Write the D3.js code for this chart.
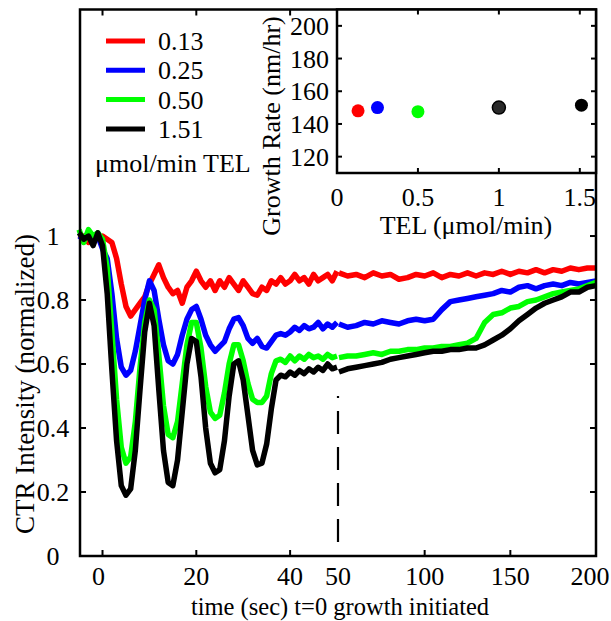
<!DOCTYPE html>
<html>
<head>
<meta charset="utf-8">
<script src="https://cdn.jsdelivr.net/npm/d3@7"></script>
<style>
body { margin: 0; background: #fff; }
</style>
</head>
<body>
<div id="chart"></div>
<script>

// time points, left panel (-5..50 sec, 1 sec) and right panel (50..200 sec, 5 sec)
var tLeft = d3.range(-5, 51)
var tRight = d3.range(50, 201, 5)

var labels = ['0.13', '0.25', '0.50', '1.51']
var colors = ['#ff0000', '#0000ff', '#00ff00', '#000000']

var redLeft = [0.99, 1.00, 0.98, 1.00, 0.99, 1.00, 0.99, 0.98, 0.93, 0.85,
  0.78, 0.75, 0.77, 0.79, 0.81, 0.85, 0.88, 0.91, 0.87, 0.84,
  0.82, 0.83, 0.79, 0.84, 0.86, 0.89, 0.86, 0.84, 0.86, 0.83,
  0.86, 0.84, 0.87, 0.85, 0.83, 0.86, 0.84, 0.82, 0.815, 0.84,
  0.83, 0.86, 0.85, 0.87, 0.85, 0.86, 0.88, 0.86, 0.87, 0.85,
  0.88, 0.86, 0.87, 0.88, 0.86, 0.89]
var blueLeft = [1.00, 0.99, 1.01, 0.99, 1.00, 0.96, 0.93, 0.82, 0.68, 0.59,
  0.565, 0.58, 0.64, 0.72, 0.80, 0.86, 0.83, 0.74, 0.66, 0.61,
  0.60, 0.63, 0.69, 0.74, 0.77, 0.78, 0.74, 0.69, 0.66, 0.64,
  0.655, 0.67, 0.71, 0.74, 0.745, 0.72, 0.68, 0.665, 0.68, 0.655,
  0.65, 0.67, 0.69, 0.695, 0.69, 0.70, 0.715, 0.705, 0.72, 0.71,
  0.715, 0.73, 0.71, 0.725, 0.715, 0.73]
var greenLeft = [1.02, 0.98, 1.02, 1.00, 1.01, 0.99, 0.90, 0.70, 0.49, 0.34,
  0.29, 0.31, 0.42, 0.59, 0.73, 0.80, 0.77, 0.63, 0.47, 0.38,
  0.37, 0.42, 0.54, 0.66, 0.73, 0.73, 0.65, 0.53, 0.45, 0.43,
  0.44, 0.51, 0.60, 0.66, 0.66, 0.61, 0.54, 0.49, 0.48, 0.48,
  0.50, 0.57, 0.61, 0.615, 0.605, 0.625, 0.61, 0.625, 0.615, 0.63,
  0.62, 0.625, 0.615, 0.63, 0.62, 0.625]
var blackLeft = [1.01, 0.99, 1.00, 0.97, 1.01, 0.97, 0.82, 0.58, 0.36, 0.22,
  0.19, 0.21, 0.33, 0.52, 0.70, 0.79, 0.72, 0.52, 0.33, 0.23,
  0.22, 0.30, 0.45, 0.60, 0.68, 0.67, 0.56, 0.40, 0.29, 0.26,
  0.27, 0.36, 0.50, 0.60, 0.61, 0.55, 0.44, 0.33, 0.285, 0.29,
  0.35, 0.46, 0.55, 0.565, 0.56, 0.575, 0.565, 0.58, 0.57, 0.585,
  0.575, 0.59, 0.58, 0.60, 0.585, 0.59]

var redRight = [0.885, 0.875, 0.88, 0.87, 0.885, 0.875, 0.88, 0.865, 0.87, 0.88,
  0.875, 0.885, 0.87, 0.88, 0.875, 0.885, 0.875, 0.885, 0.88, 0.89,
  0.88, 0.89, 0.885, 0.895, 0.885, 0.895, 0.89, 0.90, 0.895, 0.90, 0.90]
var blueRight = [0.725, 0.715, 0.72, 0.73, 0.725, 0.735, 0.73, 0.725, 0.735, 0.74,
  0.735, 0.74, 0.77, 0.795, 0.80, 0.805, 0.81, 0.815, 0.82, 0.83,
  0.825, 0.84, 0.845, 0.835, 0.845, 0.85, 0.845, 0.855, 0.85, 0.855, 0.86]
var greenRight = [0.62, 0.625, 0.625, 0.63, 0.635, 0.63, 0.64, 0.64, 0.645, 0.645,
  0.65, 0.65, 0.655, 0.655, 0.66, 0.665, 0.68, 0.73, 0.755, 0.76,
  0.775, 0.78, 0.795, 0.80, 0.81, 0.82, 0.825, 0.83, 0.835, 0.845, 0.855]
var blackRight = [0.575, 0.585, 0.59, 0.595, 0.60, 0.605, 0.615, 0.62, 0.625, 0.63,
  0.635, 0.64, 0.64, 0.645, 0.645, 0.65, 0.65, 0.66, 0.675, 0.69,
  0.71, 0.735, 0.755, 0.775, 0.79, 0.80, 0.81, 0.825, 0.825, 0.84, 0.845]

var seriesLeft = [redLeft, blueLeft, greenLeft, blackLeft]
var seriesRight = [redRight, blueRight, greenRight, blackRight]

var yTicks = [0, 0.2, 0.4, 0.6, 0.8, 1]
var xTicksLeft = [0, 20, 40]
var xTicksRight = [50, 100, 150, 200]

// inset: growth rate vs TEL
var telValues = [0.13, 0.25, 0.50, 1.0, 1.51]
var rateValues = [148, 150, 147.5, 150, 151.5]
var rateColors = ['#ff0000', '#0000ff', '#00ff00', '#2a2a2a', '#000000']
var insetXTicks = [0, 0.5, 1, 1.5]
var insetYTicks = [120, 140, 160, 180, 200]


var width = 611, height = 621
var svg = d3.select('#chart').append('svg')
  .attr('width', width).attr('height', height)
  .style('display', 'block')
  .attr('font-family', "'Times New Roman', 'Liberation Serif', Times, serif")

var L = 80, R = 596, T = 9.5, B = 556

var y = d3.scaleLinear().domain([0, 1.708]).range([B, T])
var xLeft = d3.scaleLinear().domain([-4.8, 50]).range([L, 337])
var xRight = d3.scaleLinear().domain([50, 200]).range([339, R])

var fs = 26

// series
var lineLeft = d3.line().x((d, i) => xLeft(tLeft[i])).y(d => y(d))
var lineRight = d3.line().x((d, i) => xRight(tRight[i])).y(d => y(d))

seriesLeft.forEach((s, i) => {
  svg.append('path').attr('d', lineLeft(s))
    .attr('fill', 'none').attr('stroke', colors[i])
    .attr('stroke-width', 5.5).attr('stroke-linejoin', 'round')
})
seriesRight.forEach((s, i) => {
  svg.append('path').attr('d', lineRight(s))
    .attr('fill', 'none').attr('stroke', colors[i])
    .attr('stroke-width', 5.5).attr('stroke-linejoin', 'round')
})

// dashed marker at 50 sec
svg.append('line')
  .attr('x1', 338).attr('x2', 338)
  .attr('y1', y(0.5)).attr('y2', y(0))
  .attr('stroke', '#000').attr('stroke-width', 2.2)
  .attr('stroke-dasharray', '23 13').attr('stroke-dashoffset', 21)

// frame
svg.append('rect')
  .attr('x', L).attr('y', T).attr('width', R - L).attr('height', B - T)
  .attr('fill', 'none').attr('stroke', '#000').attr('stroke-width', 2.5)

var tl = 6
yTicks.forEach(v => {
  svg.append('line').attr('x1', L).attr('x2', L + tl).attr('y1', y(v)).attr('y2', y(v))
    .attr('stroke', '#000').attr('stroke-width', 2)
  svg.append('line').attr('x1', R).attr('x2', R - tl).attr('y1', y(v)).attr('y2', y(v))
    .attr('stroke', '#000').attr('stroke-width', 2)
  svg.append('text').attr('x', 53).attr('y', y(v) + 9)
    .attr('text-anchor', 'middle').attr('font-size', fs).text(v)
})

var xTickPos = xTicksLeft.map(v => ({v, x: xLeft(v)}))
  .concat(xTicksRight.map(v => ({v, x: v == 50 ? 338 : xRight(v)})))

xTickPos.forEach(d => {
  if (d.v != 50) {
    svg.append('line').attr('x1', d.x).attr('x2', d.x).attr('y1', B).attr('y2', B - tl)
      .attr('stroke', '#000').attr('stroke-width', 2)
    svg.append('line').attr('x1', d.x).attr('x2', d.x).attr('y1', T).attr('y2', T + tl)
      .attr('stroke', '#000').attr('stroke-width', 2)
  }
  var lx = d.v == 0 ? d.x - 4 : d.v == 200 ? d.x - 6 : d.x
  svg.append('text').attr('x', lx).attr('y', B + 29)
    .attr('text-anchor', 'middle').attr('font-size', fs).text(d.v)
})

svg.append('text')
  .attr('x', 340).attr('y', 615)
  .attr('text-anchor', 'middle').attr('font-size', 24.5)
  .text('time (sec) t=0 growth initiated')

svg.append('text')
  .attr('transform', 'translate(34,384) rotate(-90)')
  .attr('text-anchor', 'middle').attr('font-size', 27)
  .text('CTR Intensity (normalized)')

// legend
labels.forEach((lab, i) => {
  var ly = 41 + i * 29.3
  svg.append('line').attr('x1', 106).attr('x2', 145).attr('y1', ly).attr('y2', ly)
    .attr('stroke', colors[i]).attr('stroke-width', 5)
  svg.append('text').attr('x', 158).attr('y', ly + 9)
    .attr('font-size', fs).text(lab)
})
svg.append('text').attr('x', 95).attr('y', 172)
  .attr('font-size', fs).text('\u03bcmol/min TEL')

// inset
var iL = 337, iR = 596, iT = 9.5, iB = 173
var xIn = d3.scaleLinear().domain([0, 1.6]).range([iL, iR])
var yIn = d3.scaleLinear().domain([110, 210]).range([iB, iT])

svg.append('rect')
  .attr('x', iL).attr('y', iT).attr('width', iR - iL).attr('height', iB - iT)
  .attr('fill', '#fff').attr('stroke', '#000').attr('stroke-width', 2.5)

insetYTicks.forEach(v => {
  svg.append('line').attr('x1', iL).attr('x2', iL + 5).attr('y1', yIn(v)).attr('y2', yIn(v))
    .attr('stroke', '#000').attr('stroke-width', 2)
  svg.append('line').attr('x1', iR).attr('x2', iR - 5).attr('y1', yIn(v)).attr('y2', yIn(v))
    .attr('stroke', '#000').attr('stroke-width', 2)
  svg.append('text').attr('x', iL - 8).attr('y', yIn(v) + 9)
    .attr('text-anchor', 'end').attr('font-size', fs).text(v)
})
insetXTicks.forEach(v => {
  if (v > 0) {
    svg.append('line').attr('x1', xIn(v)).attr('x2', xIn(v)).attr('y1', iB).attr('y2', iB - 5)
      .attr('stroke', '#000').attr('stroke-width', 2)
    svg.append('line').attr('x1', xIn(v)).attr('x2', xIn(v)).attr('y1', iT).attr('y2', iT + 5)
      .attr('stroke', '#000').attr('stroke-width', 2)
  }
  svg.append('text').attr('x', xIn(v)).attr('y', iB + 33)
    .attr('text-anchor', 'middle').attr('font-size', fs).text(v)
})

svg.selectAll('circle.rate').data(telValues).enter().append('circle')
  .attr('class', 'rate')
  .attr('cx', d => xIn(d))
  .attr('cy', (d, i) => yIn(rateValues[i]))
  .attr('r', 6.5)
  .attr('fill', (d, i) => rateColors[i])
  .attr('stroke', (d, i) => i == 3 ? '#000' : 'none')
  .attr('stroke-width', 1.5)

svg.append('text').attr('x', 466).attr('y', 234)
  .attr('text-anchor', 'middle').attr('font-size', fs)
  .text('TEL (\u03bcmol/min)')

svg.append('text')
  .attr('transform', 'translate(280,126) rotate(-90)')
  .attr('text-anchor', 'middle').attr('font-size', fs)
  .text('Growth Rate (nm/hr)')

</script>
</body>
</html>
